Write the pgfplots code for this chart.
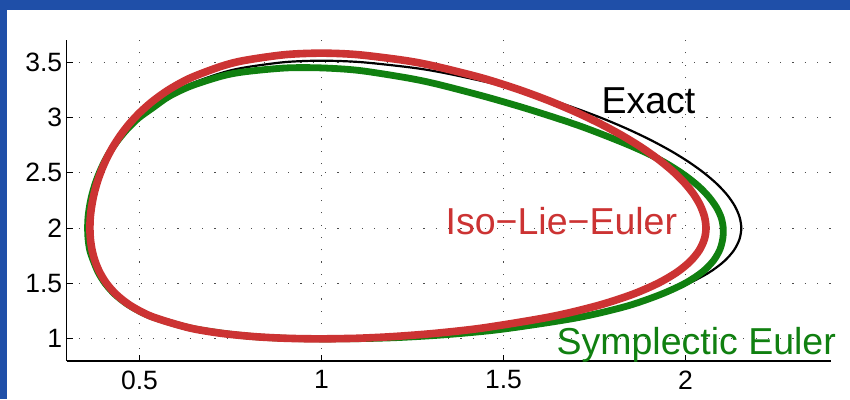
\documentclass[border=0pt]{standalone}
\usepackage{fontspec}
\setmainfont{Liberation Sans}
\usepackage{pgfplots}
\pgfplotsset{compat=1.18}
\definecolor{frameblue}{RGB}{31,79,168}
\definecolor{isored}{RGB}{204,51,51}
\definecolor{symgreen}{RGB}{16,128,16}
\begin{document}
\begin{tikzpicture}
\fill[frameblue] (-66.7pt,-38pt) rectangle (783.3pt,361pt);
\fill[white] (-59.7pt,-38pt) rectangle (783.3pt,351pt);
\path[use as bounding box] (-66.7pt,-38pt) rectangle (783.3pt,361pt);
\begin{axis}[
 at={(0,0)}, anchor=south west,
 scale only axis, width=764.3pt, height=321pt,
 xmin=0.3, xmax=2.4, ymin=0.8, ymax=3.7,
 axis lines*=left,
 axis line style={-, line width=1.2pt},
 xtick={0.5,1,1.5,2}, ytick={1,1.5,2,2.5,3,3.5},
 tick align=inside, major tick length=6pt,
 tick style={line width=1pt, black},
 grid=major,
 major grid style={line width=1pt, black!70, dash pattern=on 1.2pt off 11.1pt},
 tick label style={font=\fontsize{26.5}{30}\selectfont},
 xticklabel style={yshift=-6pt},
 yticklabel style={xshift=-1pt},
 /pgf/number format/assume math mode=true,
 clip=false,
]
\addplot[black, line width=2.2pt, smooth, line join=round] coordinates {
(1,1) (1.1031,1.005) (1.211,1.02) (1.341,1.05) (1.488,1.1) (1.6884,1.2) (1.8279,1.3) (1.931,1.4) (2.008,1.5) (2.0653,1.6) (2.1061,1.7) (2.1332,1.8) (2.1485,1.9) (2.1535,2.0) (2.1488,2.1) (2.1357,2.2) (2.1148,2.3) (2.0864,2.4) (2.0508,2.5) (2.0083,2.6) (1.9589,2.7) (1.9023,2.8) (1.8382,2.9) (1.7659,3.0) (1.6839,3.1) (1.5901,3.2) (1.4797,3.3) (1.3409,3.4) (1.2497,3.45) (1.1085,3.5) (1,3.513) (0.8988,3.5) (0.7862,3.45) (0.7225,3.4) (0.6373,3.3) (0.5778,3.2) (0.5324,3.1) (0.496,3.0) (0.4661,2.9) (0.4414,2.8) (0.4207,2.7) (0.4035,2.6) (0.3894,2.5) (0.378,2.4) (0.3691,2.3) (0.3627,2.2) (0.3586,2.1) (0.3574,2.0) (0.3588,1.9) (0.3634,1.8) (0.3718,1.7) (0.3847,1.6) (0.4036,1.5) (0.4308,1.4) (0.4703,1.3) (0.5303,1.2) (0.6324,1.1) (0.7224,1.05) (0.8148,1.02) (0.9035,1.005) (1,1) (1.1031,1.005)
};
\addplot[symgreen, line width=6.8pt, smooth, line join=round] coordinates {
(1,1) (1.1034,1.002) (1.2127,1.0122) (1.3451,1.0386) (1.4953,1.0865) (1.6987,1.188) (1.8362,1.293) (1.931,1.4) (1.9999,1.504) (2.0472,1.6068) (2.0773,1.7078) (2.0947,1.8068) (2.1026,1.904) (2.1039,2.0) (2.0983,2.0956) (2.0846,2.191) (2.0635,2.2862) (2.0353,2.3812) (1.9993,2.4755) (1.9559,2.5688) (1.9052,2.6608) (1.8455,2.7496) (1.7795,2.837) (1.7085,2.925) (1.6292,3.012) (1.5417,3.1016) (1.4413,3.196) (1.3175,3.3015) (1.2337,3.3587) (1.1031,3.425) (1,3.4479) (0.9023,3.4475) (0.7915,3.4138) (0.7275,3.3748) (0.6417,3.2844) (0.5812,3.1904) (0.5371,3.089) (0.498,2.996) (0.4672,2.8982) (0.442,2.7992) (0.4207,2.7) (0.4035,2.6) (0.3894,2.5) (0.378,2.4) (0.3691,2.3) (0.3627,2.2) (0.3586,2.1) (0.3574,2.0) (0.3588,1.9) (0.3634,1.8) (0.3737,1.7009) (0.3865,1.6012) (0.4054,1.5015) (0.4325,1.4018) (0.4719,1.3021) (0.5317,1.2024) (0.6335,1.1027) (0.7232,1.0528) (0.8148,1.02) (0.9035,1.005) (1,1) (1.1034,1.002)
};
\addplot[isored, line width=7.6pt, smooth, line join=round] coordinates {
(1,1) (1.0944,1.005) (1.1933,1.02) (1.3124,1.05) (1.447,1.1) (1.6306,1.2) (1.7584,1.3) (1.8528,1.4) (1.9233,1.5) (1.9758,1.6) (2.0132,1.7) (2.038,1.8) (2.052,1.9) (2.0566,2.0) (2.0523,2.1045) (2.0403,2.209) (2.0212,2.3135) (1.9951,2.418) (1.9625,2.5225) (1.9236,2.627) (1.8784,2.7315) (1.8265,2.836) (1.7678,2.9405) (1.7016,3.045) (1.6265,3.1495) (1.5405,3.254) (1.4394,3.3585) (1.3123,3.463) (1.2287,3.5153) (1.0994,3.5675) (1,3.5811) (0.8998,3.5675) (0.7883,3.5153) (0.7253,3.463) (0.6409,3.3585) (0.582,3.254) (0.5371,3.1495) (0.501,3.045) (0.4714,2.9405) (0.447,2.836) (0.4265,2.7315) (0.4095,2.627) (0.3955,2.5225) (0.3842,2.418) (0.3754,2.3135) (0.3691,2.209) (0.365,2.1045) (0.3638,2.0) (0.3652,1.9) (0.3698,1.8) (0.3781,1.7) (0.3909,1.6) (0.4096,1.5) (0.4365,1.4) (0.4756,1.3) (0.535,1.2) (0.6361,1.1) (0.7252,1.05) (0.8167,1.02) (0.9045,1.005) (1,1) (1.0944,1.005)
};
\node[anchor=base west, inner sep=0pt, font=\fontsize{37.5}{40}\selectfont, black] at (axis cs:1.769,3.039) {Exact};
\node[anchor=base west, inner sep=0pt, font=\fontsize{37.5}{40}\selectfont, isored] at (axis cs:1.3407,1.9395) {Iso−Lie−Euler};
\node[anchor=base west, inner sep=0pt, font=\fontsize{37.5}{40}\selectfont, symgreen] at (axis cs:1.6456,0.8555) {Symplectic Euler};
\end{axis}
\end{tikzpicture}
\end{document}
